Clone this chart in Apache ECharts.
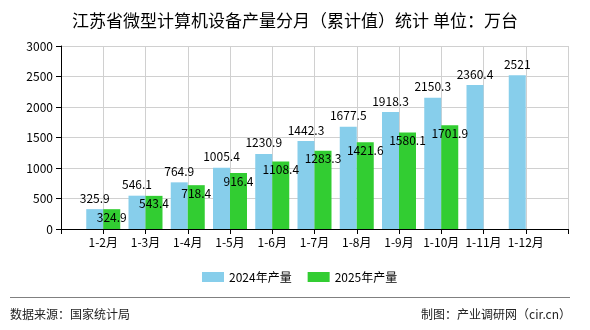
<!DOCTYPE html>
<html><head><meta charset="utf-8">
<script src="https://cdn.jsdelivr.net/npm/echarts@6/dist/echarts.min.js"></script>
<style>html,body{margin:0;padding:0;background:#fff}#c{width:590px;height:330px}</style>
</head><body><div id="c"></div>
<script>
const categories = ['', '1-2月', '1-3月', '1-4月', '1-5月', '1-6月', '1-7月', '1-8月', '1-9月', '1-10月', '1-11月', '1-12月', ' '];
const seriesNames = ['2024年产量', '2025年产量'];
const values2024 = ['-', 325.9, 546.1, 764.9, 1005.4, 1230.9, 1442.3, 1677.5, 1918.3, 2150.3, 2360.4, 2521, '-'];
const values2025 = ['-', 324.9, 543.4, 718.4, 916.4, 1108.4, 1283.3, 1421.6, 1580.1, 1701.9, '-', '-', '-'];
const yTicks = { min: 0, max: 3000, interval: 500 };
const titleText = '江苏省微型计算机设备产量分月（累计值）统计 单位：万台';
const sourceText = '数据来源：国家统计局';
const makerText = '制图：产业调研网（cir.cn）';

const FONT = '"Noto Sans CJK SC", "Noto Sans", sans-serif';
const chart = echarts.init(document.getElementById('c'));
chart.setOption({
  animation: false,
  backgroundColor: '#fff',
  title: { text: titleText, left: 'center', top: 7,
    textStyle: { fontSize: 17, fontWeight: 'normal', color: '#000', fontFamily: FONT } },
  legend: { left: 197, top: 266, itemWidth: 22, itemHeight: 10, itemGap: 16,
    icon: 'rect', textStyle: { fontSize: 12, color: '#000', fontFamily: FONT },
    data: seriesNames },
  grid: { left: 61, right: 22, top: 46, bottom: 101, containLabel: false },
  xAxis: {
    type: 'category', data: categories, boundaryGap: false,
    axisLine: { lineStyle: { color: '#000', width: 1 } },
    axisTick: { show: true, interval: 0, length: 5, lineStyle: { color: '#000' } },
    axisLabel: { interval: 0, color: '#000', fontSize: 12, margin: 7, fontFamily: FONT },
    splitLine: { show: true, interval: 0, lineStyle: { color: '#d0d0d0' } }
  },
  yAxis: {
    type: 'value', min: yTicks.min, max: yTicks.max, interval: yTicks.interval,
    axisLine: { show: true, lineStyle: { color: '#000' } },
    axisTick: { show: true, length: 5, lineStyle: { color: '#000' } },
    axisLabel: { color: '#000', fontSize: 12, margin: 8, fontFamily: FONT, formatter: v => String(v) },
    splitLine: { show: true, lineStyle: { color: '#d0d0d0' } }
  },
  series: [
    { name: seriesNames[0], type: 'bar', data: values2024, barWidth: 17, barGap: '0%',
      itemStyle: { color: '#87CEEB' },
      label: { show: true, position: 'top', distance: 5, color: '#000', fontSize: 12, fontFamily: FONT } },
    { name: seriesNames[1], type: 'bar', data: values2025, barWidth: 17, barGap: '0%',
      itemStyle: { color: '#32CD32' },
      label: { show: true, position: 'insideTop', distance: 2, color: '#000', fontSize: 12, fontFamily: FONT } }
  ],
  graphic: [
    { type: 'line', shape: { x1: 10, y1: 297.5, x2: 570, y2: 297.5 }, style: { stroke: '#808080', lineWidth: 1 } },
    { type: 'text', left: 10, top: 308, style: { text: sourceText, fill: '#222', fontSize: 12, fontFamily: FONT } },
    { type: 'text', right: 19, top: 308, style: { text: makerText, fill: '#222', fontSize: 12, fontFamily: FONT } }
  ]
});
</script></body></html>
